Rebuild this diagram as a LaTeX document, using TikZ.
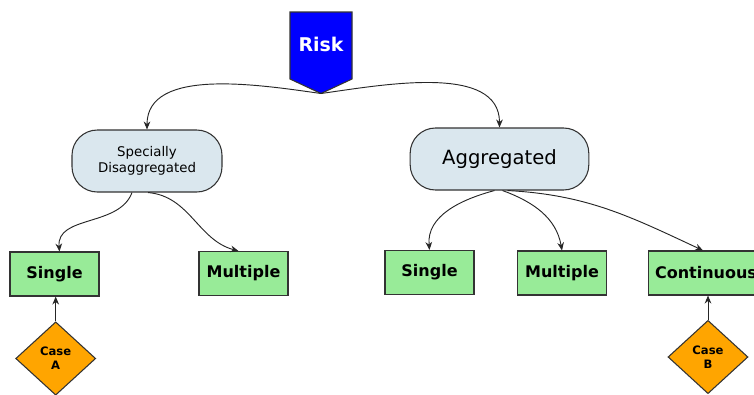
\documentclass[tikz,border=0pt]{standalone}
\usepackage{fontspec}
\setmainfont{DejaVu Sans}
\usepackage{xcolor}
\usetikzlibrary{shapes,arrows.meta,positioning,calc}

\definecolor{riskblue}{HTML}{0000FF}
\definecolor{boxgreen}{HTML}{98EB98}
\definecolor{caseorange}{HTML}{FFA500}
\definecolor{groupblue}{HTML}{DAE7EE}
\definecolor{edgegray}{HTML}{333333}

\tikzset{
    group/.style={draw=edgegray, fill=groupblue, line width=0.8pt, rounded corners=19pt, minimum height=46.5pt, align=center},
    kind/.style={draw=edgegray, fill=boxgreen, line width=0.8pt, minimum width=66.75pt, minimum height=33pt, inner xsep=5pt, font=\bfseries\fontsize{12}{14}\selectfont},
    casebox/.style={draw=edgegray, fill=caseorange, line width=0.8pt, diamond, inner sep=0pt, minimum width=60pt, minimum height=55pt, align=center, font=\bfseries\fontsize{8.7}{10.7}\selectfont},
    link/.style={draw=black!85, line width=0.7pt, -{Stealth[length=6pt,width=5pt]}}
}

\begin{document}
\begin{tikzpicture}[x=0.75pt, y=-0.75pt]
    \useasboundingbox (0,0) rectangle (754,394);

    % Risk
    \draw [draw=edgegray, fill=riskblue, line width=0.8pt] (290,12) -- (352,12) -- (352,79) -- (321,93.5) -- (290,79) -- cycle;
    \node [text=white, font=\bfseries\fontsize{14.2}{17}\selectfont] (risk) at (321,44) {Risk};
    \coordinate (risktip) at (321,93.5);

    % Groups
    \node [group, minimum width=112.5pt, font=\fontsize{10}{12}\selectfont] (spec) at (147,161) {Specially\\Disaggregated};
    \node [group, minimum width=134pt, font=\fontsize{14.7}{17}\selectfont] (agg) at (499.5,159) {Aggregated};
    \draw [link] (risktip) to [out=172, in=90, looseness=0.9] (spec.north);
    \draw [link] (risktip) to [out=8, in=90, looseness=0.9] (agg.north);

    % Left kinds
    \node [kind] (singleA) at (54.5,274) {Single};
    \node [kind] (multiA) at (243.5,273.5) {Multiple};
    \draw [link] ($(spec.south)+(-15,0)$) to [out=-110, in=95] ($(singleA.north)+(5,0)$);
    \draw [link] ($(spec.south)+(1,0)$) to [out=-5, in=165] ($(multiA.north)+(-5,0)$);

    % Right kinds
    \node [kind] (singleB) at (429.5,272.5) {Single};
    \node [kind] (multiB) at (562,273) {Multiple};
    \node [kind] (cont) at (706,273) {Continuous};
    \draw [link] ($(agg.south)+(-5,0)$) to [out=-165, in=95] (singleB.north);
    \draw [link] ($(agg.south)+(3,0)$) to [out=-20, in=100] (multiB.north);
    \draw [link] ($(agg.south)+(8,0)$) to [out=-3, in=155] ($(cont.north)+(-3,0)$);

    % Cases
    \node [casebox] (caseA) at (55.7,358.5) {Case\\A};
    \node [casebox] (caseB) at (708,357) {Case\\B};
    \draw [link] (caseA.north) -- (caseA.north |- singleA.south);
    \draw [link] (caseB.north) -- (caseB.north |- cont.south);

\end{tikzpicture}
\end{document}
